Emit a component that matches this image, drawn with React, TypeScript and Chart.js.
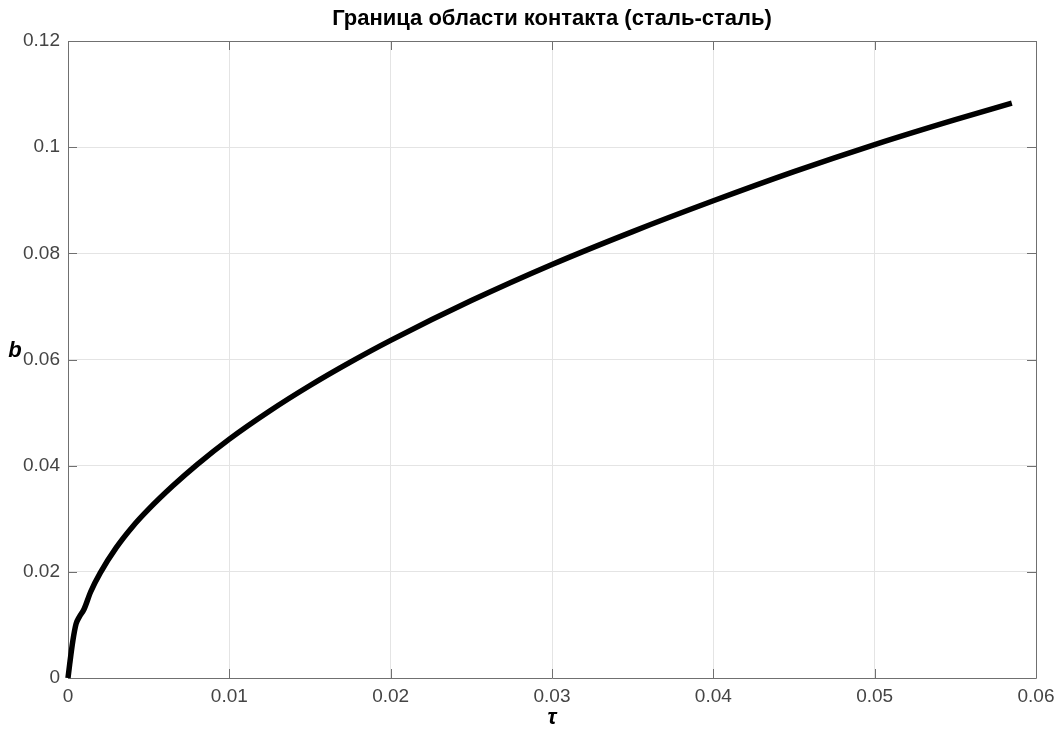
import { useEffect, useRef } from 'react';
import { Chart, registerables } from 'chart.js';

Chart.register(...registerables);

// Contact boundary b versus dimensionless time τ (steel on steel)
const tauValues = [
  0, 0.0001, 0.0003, 0.0005, 0.0007, 0.001, 0.0014, 0.002, 0.003, 0.004, 0.005, 0.0065,
  0.008, 0.01, 0.0125, 0.015, 0.0175, 0.02, 0.025, 0.03, 0.035, 0.04, 0.045, 0.05, 0.055,
  0.0585,
];
const bValues = [
  0, 0.0025, 0.007, 0.0102, 0.0115, 0.013, 0.0162, 0.0198, 0.0246, 0.0285, 0.0318, 0.0362,
  0.0402, 0.045, 0.0503, 0.0551, 0.0595, 0.0636, 0.0711, 0.0779, 0.0841, 0.0899, 0.0954,
  0.1005, 0.1052, 0.1083,
];

const xTickValues = [0, 0.01, 0.02, 0.03, 0.04, 0.05, 0.06];
const xTickLabels = ['0', '0.01', '0.02', '0.03', '0.04', '0.05', '0.06'];
const yTickValues = [0, 0.02, 0.04, 0.06, 0.08, 0.1, 0.12];
const yTickLabels = ['0', '0.02', '0.04', '0.06', '0.08', '0.1', '0.12'];

const chartTitle = 'Граница области контакта (сталь-сталь)';
const xAxisTitle = 'τ';
const yAxisTitle = 'b';

const FONT = '"Liberation Sans", Arial, Helvetica, sans-serif';
const W = 1062;
const H = 734;

// Box around the axes with inward tick marks on all four sides
const framePlugin = {
  id: 'frame',
  beforeDatasetsDraw(chart: any) {
    const { ctx, chartArea, scales } = chart;
    const { left, right, top, bottom } = chartArea;
    const tickLen = 9;
    ctx.save();
    ctx.strokeStyle = '#707070';
    ctx.lineWidth = 1;
    ctx.beginPath();
    ctx.rect(Math.round(left) + 0.5, Math.round(top) + 0.5, Math.round(right - left), Math.round(bottom - top));
    xTickValues.forEach((v) => {
      const px = Math.round(scales.x.getPixelForValue(v)) + 0.5;
      ctx.moveTo(px, bottom);
      ctx.lineTo(px, bottom - tickLen);
      ctx.moveTo(px, top);
      ctx.lineTo(px, top + tickLen);
    });
    yTickValues.forEach((v) => {
      const py = Math.round(scales.y.getPixelForValue(v)) + 0.5;
      ctx.moveTo(left, py);
      ctx.lineTo(left + tickLen, py);
      ctx.moveTo(right, py);
      ctx.lineTo(right - tickLen, py);
    });
    ctx.stroke();
    ctx.restore();
  },
  afterDraw(chart: any) {
    const { ctx, chartArea } = chart;
    const { left, right, top, bottom } = chartArea;
    const cx = (left + right) / 2;
    ctx.save();
    ctx.fillStyle = '#000';
    ctx.textAlign = 'center';
    ctx.textBaseline = 'middle';
    ctx.font = `bold 22px ${FONT}`;
    ctx.fillText(chartTitle, cx, top - 22);
    ctx.font = `italic bold 22px ${FONT}`;
    ctx.fillText(xAxisTitle, cx, bottom + 40);
    ctx.fillText(yAxisTitle, 15, (top + bottom) / 2 - 9);
    ctx.restore();
  },
};

export default function App() {
  const canvasRef = useRef<HTMLCanvasElement | null>(null);

  useEffect(() => {
    document.body.style.margin = '0';
    const canvas = canvasRef.current;
    if (!canvas) return;
    const chart = new Chart(canvas, {
      type: 'line',
      data: {
        datasets: [
          {
            data: tauValues.map((t, i) => ({ x: t, y: bValues[i] })),
            borderColor: '#000000',
            borderWidth: 5.5,
            pointRadius: 0,
            fill: false,
            cubicInterpolationMode: 'monotone',
            clip: false as any,
          },
        ],
      },
      options: {
        animation: false,
        responsive: true,
        maintainAspectRatio: false,
        events: [],
        layout: { padding: { left: 0, right: 26, top: 41, bottom: 0 } },
        plugins: {
          legend: { display: false },
          tooltip: { enabled: false },
          title: { display: false },
        },
        scales: {
          x: {
            type: 'linear',
            min: 0,
            max: 0.06,
            afterBuildTicks: (s: any) => {
              s.ticks = xTickValues.map((v) => ({ value: v }));
            },
            afterFit: (s: any) => {
              s.height = H - 678;
            },
            ticks: {
              callback: (_v: any, i: number) => xTickLabels[i],
              font: { family: FONT, size: 19 },
              color: '#444444',
              padding: 7,
              maxRotation: 0,
              autoSkip: false,
            },
            grid: { color: '#e4e4e4', lineWidth: 1, drawTicks: false },
            border: { display: false },
          },
          y: {
            type: 'linear',
            min: 0,
            max: 0.12,
            afterBuildTicks: (s: any) => {
              s.ticks = yTickValues.map((v) => ({ value: v }));
            },
            afterFit: (s: any) => {
              s.width = 68;
            },
            ticks: {
              callback: (_v: any, i: number) => yTickLabels[i],
              font: { family: FONT, size: 19 },
              color: '#444444',
              padding: 8,
              autoSkip: false,
            },
            grid: { color: '#e4e4e4', lineWidth: 1, drawTicks: false },
            border: { display: false },
          },
        },
      },
      plugins: [framePlugin],
    });
    return () => chart.destroy();
  }, []);

  return (
    <div style={{ width: W, height: H, position: 'relative', background: '#fff' }}>
      <canvas ref={canvasRef} />
    </div>
  );
}
